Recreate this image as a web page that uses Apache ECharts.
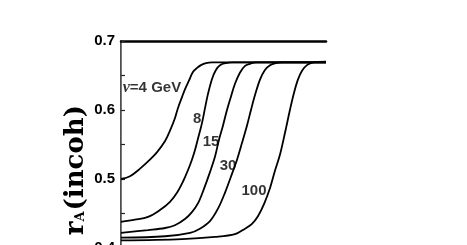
<!DOCTYPE html>
<html>
<head>
<meta charset="utf-8">
<script src="https://cdn.jsdelivr.net/npm/echarts@6/dist/echarts.min.js"></script>
<style>
html,body{margin:0;padding:0;background:#fff;}
#chart{width:467px;height:245px;}
</style>
</head>
<body>
<div id="chart"></div>
<script>
// Curve data: [x (arbitrary units, 0..100), r_A(incoh)]
var curve4 = [[0,0.500],[4.4,0.504],[9.3,0.515],[14.1,0.528],[17.6,0.539],[21.5,0.555],[23.9,0.570],[26.3,0.588],[27.8,0.603],[29.8,0.619],[31.2,0.630],[33.2,0.643],[35.1,0.655],[37.1,0.661],[39.0,0.665],[41.5,0.668],[44.4,0.669],[100,0.669]];
var curve8 = [[0,0.438],[6.8,0.441],[13.2,0.445],[19.0,0.455],[23.9,0.467],[27.3,0.480],[30.2,0.496],[32.7,0.513],[34.6,0.528],[36.1,0.542],[37.6,0.559],[39.5,0.581],[41.0,0.603],[42.4,0.623],[44.4,0.645],[46.3,0.658],[48.3,0.665],[51.2,0.668],[54.2,0.669],[100,0.669]];
var curve15 = [[0,0.422],[13.2,0.426],[21.5,0.429],[26.3,0.433],[31.2,0.442],[34.6,0.452],[37.6,0.465],[40.5,0.486],[43.4,0.510],[45.9,0.533],[47.8,0.557],[49.8,0.578],[51.7,0.600],[53.7,0.620],[55.6,0.638],[58.0,0.654],[60.5,0.664],[62.9,0.667],[65.9,0.669],[100,0.669]];
var curve30 = [[0,0.415],[21.5,0.417],[33.7,0.422],[38.5,0.428],[43.4,0.439],[47.3,0.457],[50.7,0.480],[53.7,0.504],[56.6,0.528],[59.0,0.552],[61.5,0.578],[63.4,0.600],[65.4,0.622],[67.8,0.644],[70.2,0.658],[72.7,0.665],[75.6,0.668],[78.5,0.669],[100,0.669]];
var curve100 = [[0,0.411],[29.8,0.413],[45.9,0.416],[55.6,0.420],[60.5,0.428],[63.9,0.435],[66.8,0.446],[69.8,0.464],[72.7,0.487],[75.1,0.512],[77.6,0.536],[80.0,0.567],[82.4,0.600],[84.4,0.625],[86.3,0.644],[88.3,0.657],[90.7,0.665],[93.7,0.669],[100,0.670]];
var seriesNames = ['ν=4 GeV','8','15','30','100'];
var yTicks = [0.4, 0.5, 0.6, 0.7];
// label anchors in data units
var labelAnchors = [[15.1,0.632],[37.1,0.587],[43.9,0.554],[52.2,0.519],[64.9,0.483]];

var curves = [curve4, curve8, curve15, curve30, curve100];
var chart = echarts.init(document.getElementById('chart'), null, {renderer:'canvas'});

var series = curves.map(function(c, i){
  return {
    type:'line', name: seriesNames[i], data:c, showSymbol:false, smooth:0.35,
    lineStyle:{color:'#000', width:1.8}, animation:false, z:3
  };
});
series.push({
  type:'scatter', symbolSize:0, animation:false, silent:true,
  data: labelAnchors.map(function(p,i){ return {value:p, name:seriesNames[i]}; }),
  label:{
    show:true, position:'inside', color:'#000',
    fontFamily:'Liberation Sans, Arial', fontWeight:'bold', fontSize:15,
    formatter:function(p){
      if(p.dataIndex===0){ return '{it|ν}=4 GeV'; }
      return p.name;
    },
    rich:{ it:{fontStyle:'italic', fontFamily:'Liberation Serif, serif', fontSize:16, color:'#000'} }
  }
});

var option = {
  backgroundColor:'#fff',
  animation:false,
  grid:{left:121, top:41, width:205, height:207, show:false, outerBoundsMode:'none', containLabel:false},
  xAxis:[
    {type:'value', min:0, max:100, position:'bottom', show:false},
    {type:'value', min:0, max:100, position:'top', axisLine:{show:true, onZero:false, lineStyle:{color:'#000', width:2.5}},
     axisTick:{show:false}, axisLabel:{show:false}, splitLine:{show:false}}
  ],
  yAxis:[
    {type:'value', min:0.4, max:0.7, interval:0.1, position:'left',
     axisLine:{show:true, lineStyle:{color:'#222', width:1.6}},
     axisTick:{show:true, inside:true, length:4, lineStyle:{color:'#222', width:1.2}},
     minorTick:{show:true, splitNumber:2, length:4, lineStyle:{color:'#222', width:1.2}},
     splitLine:{show:false},
     axisLabel:{margin:6, color:'#000', fontWeight:'bold', fontSize:15,
       fontFamily:'Liberation Sans, Arial',
       formatter:function(v){ var s=v.toFixed(1); return yTicks.indexOf(+s)>=0 ? s : ''; }},
    },
    {type:'value', min:0.4, max:0.7, interval:0.1, position:'right',
     axisLine:{show:true, lineStyle:{color:'#777', width:1}},
     axisTick:{show:false}, axisLabel:{show:false}, splitLine:{show:false}}
  ],
  graphic:[{
    type:'text', x:76, y:105, rotation:Math.PI/2,
    style:{
      text:'{r|r}{s|A}{r|(incoh)}',
      align:'right', verticalAlign:'middle',
      rich:{
        r:{fontFamily:'DejaVu Serif, serif', fontWeight:'bold', fontSize:26, fill:'#000'},
        s:{fontFamily:'DejaVu Serif, serif', fontWeight:'bold', fontSize:13, fill:'#000', padding:[10,1,0,0]}
      }
    }
  }],
  series: series
};
chart.setOption(option);
</script>
</body>
</html>
